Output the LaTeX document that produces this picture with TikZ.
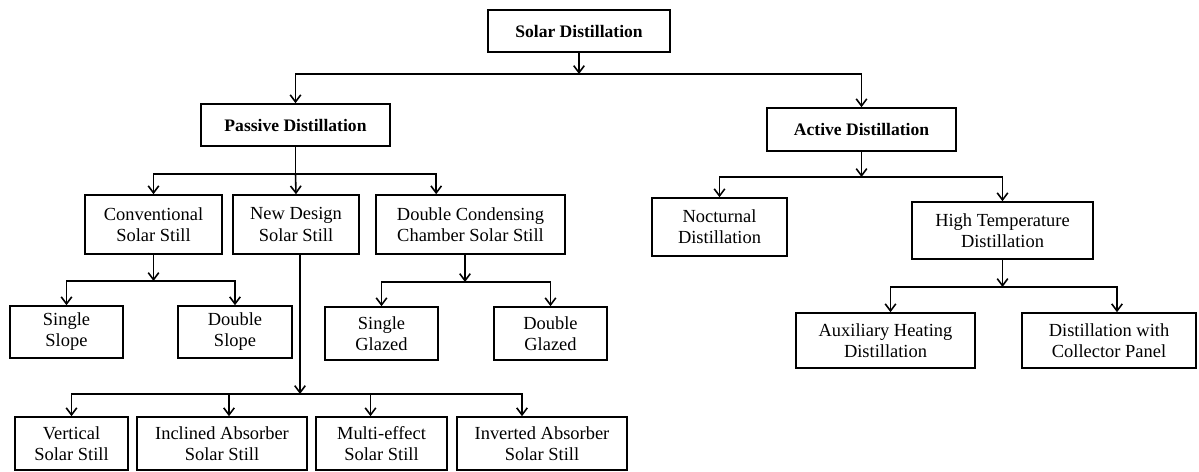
\documentclass[tikz,border=0pt]{standalone}
\usepackage{fontspec}
\setmainfont{Liberation Serif}
\usetikzlibrary{arrows.meta,calc}

\tikzset{
  box/.style={draw, line width=0.9pt, align=center, inner sep=2pt,
    font=\fontsize{10.5}{12}\selectfont},
  topbox/.style={box, font=\bfseries\fontsize{10}{12}\selectfont},
  arr/.style={line width=0.9pt, -{Straight Barb[length=4pt,width=6pt]}},
  link/.style={line width=0.9pt},
}

\begin{document}
\begin{tikzpicture}[x=0.02cm, y=-0.02cm]
  \useasboundingbox (0,0) rectangle (1199,472);

  % top levels
  \node[topbox, minimum width=3.64cm, minimum height=0.84cm] (sd) at (579,31) {Solar Distillation};
  \node[topbox, minimum width=3.78cm, minimum height=0.84cm] (pd) at (295.5,125) {Passive Distillation};
  \node[topbox, minimum width=3.78cm, minimum height=0.86cm] (ad) at (861.5,129.5) {Active Distillation};

  \node[box, minimum width=2.74cm, minimum height=1.18cm] (cv) at (153.5,224.5) {Conventional\\Solar Still};
  \node[box, minimum width=2.52cm, minimum height=1.18cm] (nd) at (296,224.5) {New Design\\Solar Still};
  \node[box, minimum width=3.78cm, minimum height=1.18cm] (dc) at (470.5,224.5) {Double Condensing\\Chamber Solar Still};
  \node[box, minimum width=2.70cm, minimum height=1.16cm] (nc) at (719.5,227) {Nocturnal\\Distillation};
  \node[box, minimum width=3.62cm, minimum height=1.14cm] (ht) at (1002.5,230.5) {High Temperature\\Distillation};

  \node[box, minimum width=2.26cm, minimum height=1.04cm] (ss) at (66.5,332) {Single\\Slope};
  \node[box, minimum width=2.28cm, minimum height=1.04cm] (ds) at (235,332) {Double\\Slope};
  \node[box, minimum width=2.26cm, minimum height=1.06cm] (sg) at (381.5,333.5) {Single\\Glazed};
  \node[box, minimum width=2.26cm, minimum height=1.06cm] (dg) at (550.5,333.5) {Double\\Glazed};
  \node[box, minimum width=3.58cm, minimum height=1.10cm] (ah) at (885.5,340.5) {Auxiliary Heating\\Distillation};
  \node[box, minimum width=3.48cm, minimum height=1.10cm] (cp) at (1109,340.5) {Distillation with\\Collector Panel};

  \node[box, minimum width=2.26cm, minimum height=1.06cm] (vs) at (71.5,443.5) {Vertical\\Solar Still};
  \node[box, minimum width=3.40cm, minimum height=1.06cm] (ia) at (222,443.5) {Inclined Absorber\\Solar Still};
  \node[box, minimum width=2.62cm, minimum height=1.06cm] (me) at (381.5,443.5) {Multi-effect\\Solar Still};
  \node[box, minimum width=3.40cm, minimum height=1.06cm] (iv) at (542,443.5) {Inverted Absorber\\Solar Still};

  % junctions
  \coordinate (j0) at (579,74);
  \coordinate (j1) at (295.5,174);
  \coordinate (j2) at (153.5,281);
  \coordinate (j3) at (465,282);
  \coordinate (j4) at (861.5,177);
  \coordinate (j5) at (1002.5,287);
  \coordinate (j6) at (300,394);

  \draw[arr] (sd.south) -- (j0);
  \draw[arr] (j0) -| (pd.north);
  \draw[arr] (j0) -| (ad.north);

  \draw[link] (pd.south) -- (j1);
  \draw[arr] (j1) -| (cv.north);
  \draw[arr] (j1) -- (nd.north);
  \draw[arr] (j1) -| ($(dc.north west)!0.32!(dc.north east)$);

  \draw[arr] (cv.south) -- (j2);
  \draw[arr] (j2) -| (ss.north);
  \draw[arr] (j2) -| (ds.north);

  \draw[arr] ($(dc.south)+(-5.5,0)$) -- (j3);
  \draw[arr] (j3) -| (sg.north);
  \draw[arr] (j3) -| (dg.north);

  \draw[arr] (ad.south) -- (j4);
  \draw[arr] (j4) -| (nc.north);
  \draw[arr] (j4) -| (ht.north);

  \draw[arr] (ht.south) -- (j5);
  \draw[arr] (j5) -| ($(ah.north)+(5,0)$);
  \draw[arr] (j5) -| ($(cp.north)+(8,0)$);

  \draw[arr] ($(nd.south)+(4,0)$) -- (j6);
  \draw[arr] (j6) -| (vs.north);
  \draw[arr] (j6) -| ($(ia.north)+(7,0)$);
  \draw[arr] (j6) -| ($(me.north)+(-11,0)$);
  \draw[arr] (j6) -| ($(iv.north)+(-20,0)$);
\end{tikzpicture}
\end{document}
